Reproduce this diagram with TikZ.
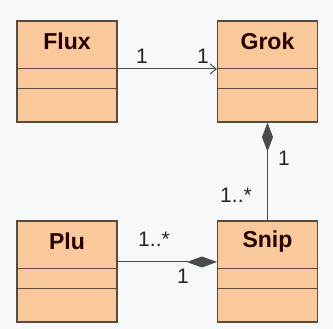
\documentclass[tikz,border=0pt]{standalone}
\usepackage{fontspec}
\setmainfont{Liberation Sans}
\usetikzlibrary{arrows.meta}
\definecolor{bgcol}{HTML}{F7F8FA}
\definecolor{boxcol}{HTML}{F9C99B}
\definecolor{edgecol}{HTML}{5A4A3C}
\definecolor{linecol}{HTML}{4A4A4A}
\tikzset{
  classbox/.style={draw=edgecol,line width=1.2pt,fill=boxcol,minimum width=100pt,minimum height=101pt,inner sep=0pt},
  classname/.style={font=\fontsize{23}{23}\selectfont\bfseries,text=black!85!red,inner sep=0pt},
  mult/.style={font=\fontsize{21}{21}\selectfont,text=black!85,inner sep=0pt},
  assoc/.style={draw=linecol,line width=1pt}
}
\begin{document}
\begin{tikzpicture}[x=1pt,y=-1pt]
\fill[bgcol] (0,0) rectangle (333,329);
\useasboundingbox (0,0) rectangle (333,329);
% classes
\node[classbox] (flux) at (67,71.5) {};
\node[classbox] (grok) at (267.5,71.5) {};
\node[classbox] (plu) at (67,271.5) {};
\node[classbox] (snip) at (267.5,271.5) {};
\node[classname] (fluxname) at ([yshift=-21pt]flux.north) {Flux};
\node[classname] (grokname) at ([yshift=-21pt]grok.north) {Grok};
\node[classname] (pluname) at ([yshift=-21pt]plu.north) {Plu};
\node[classname] (snipname) at ([yshift=-21pt]snip.north) {Snip};
\foreach \c in {flux,grok,plu,snip}{
  \draw[edgecol,line width=1.2pt] ([yshift=-48pt]\c.north west) -- ([yshift=-48pt]\c.north east);
  \draw[edgecol,line width=1.2pt] ([yshift=-68pt]\c.north west) -- ([yshift=-68pt]\c.north east);
}
% associations
\draw[assoc,-{Straight Barb[length=6pt,width=10pt]}] ([yshift=2.5pt]flux.east) -- ([yshift=2.5pt]grok.west);
\draw[assoc,{Diamond[length=29pt,width=11pt,fill=linecol]}-] (grok.south) -- (snip.north);
\draw[assoc,-{Diamond[length=30pt,width=11pt,fill=linecol]}] ([yshift=9.5pt]plu.east) -- ([yshift=9.5pt]snip.west);
% multiplicities
\node[mult] (m1) at (142,56) {1};
\node[mult] (m2) at (203,56) {1};
\node[mult] (m3) at (284,158) {1};
\node[mult] (m4) at (236,195) {1..*};
\node[mult] (m5) at (154,239) {1..*};
\node[mult] (m6) at (183,276) {1};
\end{tikzpicture}
\end{document}
